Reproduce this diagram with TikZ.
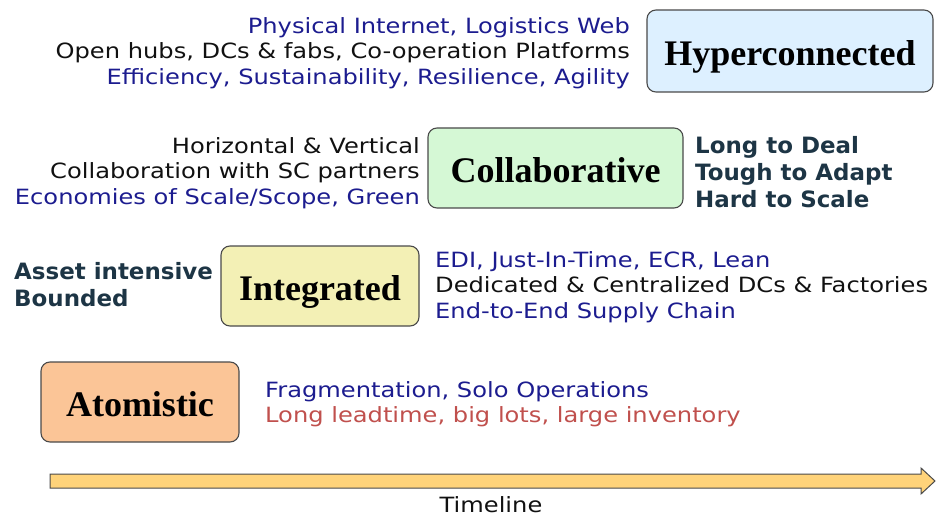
\documentclass[tikz,border=0pt]{standalone}
\usepackage{fontspec}
\setmainfont{DejaVu Sans}
\newfontfamily\widefont[FakeStretch=1.15]{DejaVu Sans}
\newfontfamily\widebold[FakeStretch=1.02]{DejaVu Sans Bold}
\newfontfamily\boxfont{Liberation Serif}
\definecolor{navy}{HTML}{1C1C8F}
\definecolor{inkblack}{HTML}{111111}
\definecolor{slate}{HTML}{1D3545}
\definecolor{redtxt}{HTML}{C0504D}
\definecolor{hyperfill}{HTML}{DDF0FF}
\definecolor{collabfill}{HTML}{D5F8D5}
\definecolor{integfill}{HTML}{F3F0B5}
\definecolor{atomfill}{HTML}{FBC597}
\definecolor{arrowfill}{HTML}{FFD37A}
\definecolor{edge}{HTML}{4A4A4A}
\begin{document}
\begin{tikzpicture}[x=1pt,y=-1pt,
  stagebox/.style={draw=edge, line width=1.1pt, rounded corners=9pt, inner sep=0pt,
    text height=29pt, text depth=0pt,
    font=\boxfont\bfseries\fontsize{36}{40}\selectfont, text=black},
  txt/.style={inner sep=0pt, font=\widefont\fontsize{21}{25.5}\selectfont, text=inkblack},
  bigtxt/.style={inner sep=0pt, font=\widebold\fontsize{22.5}{27}\selectfont, text=slate}]
\useasboundingbox (0,0) rectangle (938,516);
% stage boxes
\node[stagebox, fill=hyperfill, minimum width=286pt, minimum height=82pt] (hyper) at (790,51) {Hyperconnected};
\node[stagebox, fill=collabfill, minimum width=255pt, minimum height=80pt] (collab) at (555.5,168) {Collaborative};
\node[stagebox, fill=integfill, minimum width=198pt, minimum height=80pt] (integ) at (320,286) {Integrated};
\node[stagebox, fill=atomfill, minimum width=198pt, minimum height=80pt] (atom) at (140,402) {Atomistic};
% texts
\node[txt, align=right, anchor=east] (hyperL) at (630,53) {{\color{navy}Physical Internet, Logistics Web}\\Open hubs, DCs \& fabs, Co-operation Platforms\\{\color{navy}Efficiency, Sustainability, Resilience, Agility}};
\node[txt, align=right, anchor=east] (collabL) at (420,173) {Horizontal \& Vertical\\Collaboration with SC partners\\{\color{navy}Economies of Scale/Scope, Green}};
\node[bigtxt, align=left, anchor=west] (collabR) at (695,172) {Long to Deal\\Tough to Adapt\\Hard to Scale};
\node[bigtxt, align=left, anchor=west] (integL) at (14,285) {Asset intensive\\Bounded};
\node[txt, align=left, anchor=west] (integR) at (435,287) {{\color{navy}EDI, Just-In-Time, ECR, Lean}\\Dedicated \& Centralized DCs \& Factories\\{\color{navy}End-to-End Supply Chain}};
\node[txt, align=left, anchor=west] (atomR) at (265,404) {{\color{navy}Fragmentation, Solo Operations}\\{\color{redtxt}Long leadtime, big lots, large inventory}};
% timeline arrow
\coordinate (tlstart) at (50,481);
\coordinate (tlend) at (935,481);
\draw[draw=edge, line width=1pt, fill=arrowfill, line join=miter]
  ([yshift=-7pt]tlstart) -- ([xshift=-14pt,yshift=-7pt]tlend) -- ([xshift=-14pt,yshift=-13pt]tlend)
  -- (tlend) -- ([xshift=-14pt,yshift=13pt]tlend) -- ([xshift=-14pt,yshift=7pt]tlend)
  -- ([yshift=7pt]tlstart) -- cycle;
\node[txt] (tllabel) at (491,505) {Timeline};
\end{tikzpicture}
\end{document}
